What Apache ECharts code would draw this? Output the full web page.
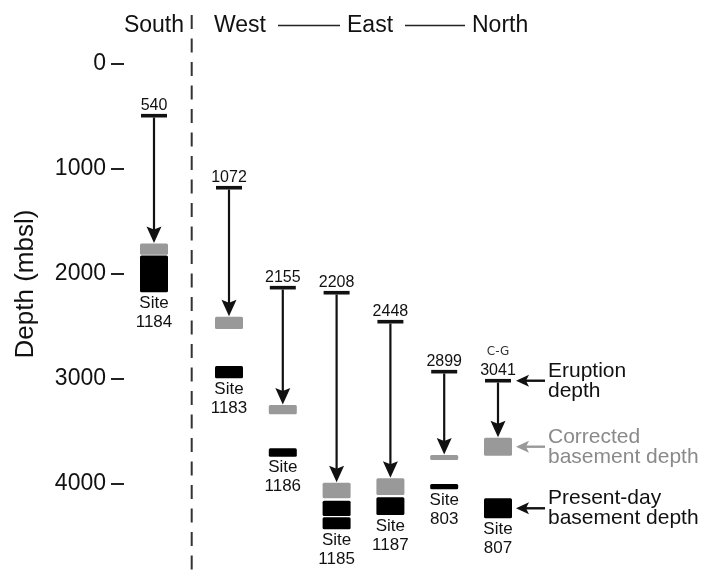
<!DOCTYPE html>
<html><head><meta charset="utf-8">
<script src="https://cdn.jsdelivr.net/npm/echarts@6/dist/echarts.min.js"></script>
<style>html,body{margin:0;padding:0;background:#fff}#c{width:707px;height:576px}</style>
</head><body><div id="c"></div>
<script>
// ---- data ----
const southSites = ['1184'];
const otherSites = ['1183', '1186', '1185', '1187', '803', '807'];
const sites = ['1184', '1183', '1186', '1185', '1187', '803', '807'];
const eruptionDepth = [499, 1185, 2137, 2185, 2461, 2937, 3023];
const eruptionLabel = ['540', '1072', '2155', '2208', '2448', '2899', '3041'];
const eruptionNote = ['', '', '', '', '', '', 'C-G'];
const correctedTop = [1717, 2413, 3254, 3994, 3952, 3730, 3566];
const correctedBottom = [1824, 2530, 3343, 4143, 4111, 3778, 3737];
const presentSite = ['1184', '1183', '1186', '1185', '1185', '1187', '803', '807'];
const presentTop = [1830, 2883, 3667, 4166, 4324, 4133, 4007, 4143];
const presentBottom = [2181, 3000, 3747, 4311, 4438, 4302, 4057, 4333];
const depthTicks = [0, 1000, 2000, 3000, 4000];
const headerLabels = ['South', 'West', 'East', 'North'];
const noteText = ['Eruption\ndepth', 'Corrected\nbasement depth', 'Present-day\nbasement depth'];

// ---- styles ----
const FONT = 'Liberation Sans, Arial, sans-serif';
const INK = '#111';
const GREY = '#999';
const GREY_TEXT = '#8a8a8a';
const BOX_W = 28;

const gridOf = s => southSites.includes(s) ? 0 : 1;

function renderEruption(params, api) {
  const i = api.value(2);
  const p = api.coord([api.value(0), api.value(1)]);
  const ch = [
    { type: 'rect', shape: { x: p[0] - 13, y: p[1] - 1.8, width: 26, height: 3.6 }, style: { fill: INK } },
    { type: 'text', style: { text: eruptionLabel[i], x: p[0], y: p[1] - 10.5, align: 'center', verticalAlign: 'middle', fontSize: 16, fontFamily: FONT, fill: INK } }
  ];
  if (eruptionNote[i]) {
    ch.push({ type: 'text', style: { text: eruptionNote[i], x: p[0], y: p[1] - 28.5, align: 'center', verticalAlign: 'middle', fontSize: 12, fontFamily: 'DejaVu Sans, sans-serif', fill: '#333' } });
  }
  return { type: 'group', children: ch };
}

function renderArrow(params, api) {
  const x = api.value(0);
  const a = api.coord([x, api.value(1)]);
  const b = api.coord([x, api.value(2)]);
  const cx = a[0], y0 = a[1] + 1.8, yt = b[1] - 0.5;
  return { type: 'group', children: [
    { type: 'line', shape: { x1: cx, y1: y0, x2: cx, y2: yt - 10 }, style: { stroke: INK, lineWidth: 2.2 } },
    { type: 'polygon', shape: { points: [[cx, yt], [cx - 7.5, yt - 16.5], [cx, yt - 13.5], [cx + 7.5, yt - 16.5]] }, style: { fill: INK } }
  ] };
}

function renderBox(color) {
  return function (params, api) {
    const x = api.value(0);
    const a = api.coord([x, api.value(1)]);
    const b = api.coord([x, api.value(2)]);
    return { type: 'rect', shape: { x: a[0] - BOX_W / 2, y: a[1], width: BOX_W, height: b[1] - a[1], r: 1.5 }, style: { fill: color } };
  };
}

function renderSiteLabel(params, api) {
  const p = api.coord([api.value(0), api.value(1)]);
  return { type: 'text', style: { text: 'Site\n' + sites[api.value(2)], x: p[0], y: p[1] + 1.5, align: 'center', verticalAlign: 'top', fontSize: 17, lineHeight: 19, fontFamily: FONT, fill: INK } };
}

function renderNote(params, api) {
  const i = api.value(2);
  const p = api.coord([api.value(0), api.value(1)]);
  const col = i === 1 ? GREY : INK;
  const tcol = i === 1 ? GREY_TEXT : INK;
  const x0 = p[0] + 18, y = p[1];
  return { type: 'group', children: [
    { type: 'line', shape: { x1: x0 + 8, y1: y, x2: x0 + 29, y2: y }, style: { stroke: col, lineWidth: 2.4 } },
    { type: 'polygon', shape: { points: [[x0, y], [x0 + 13, y - 6], [x0 + 10, y], [x0 + 13, y + 6]] }, style: { fill: col } },
    { type: 'text', style: { text: noteText[i], x: x0 + 32, y: y, align: 'left', verticalAlign: 'middle', fontSize: 21, lineHeight: 20, fontFamily: FONT, fill: tcol } }
  ] };
}

// ---- build series per grid ----
const series = [];
[0, 1].forEach(g => {
  const eru = [], arr = [], cor = [], lab = [];
  sites.forEach((s, i) => {
    if (gridOf(s) !== g) return;
    eru.push([s, eruptionDepth[i], i]);
    arr.push([s, eruptionDepth[i], correctedTop[i]]);
    cor.push([s, correctedTop[i], correctedBottom[i]]);
    let low = -Infinity;
    presentSite.forEach((ps, k) => { if (ps === s) low = Math.max(low, presentBottom[k]); });
    lab.push([s, low, i]);
  });
  const pres = [];
  presentSite.forEach((s, k) => { if (gridOf(s) === g) pres.push([s, presentTop[k], presentBottom[k]]); });
  const common = { type: 'custom', xAxisIndex: g, yAxisIndex: g, clip: false, silent: true };
  series.push(Object.assign({ name: 'Corrected basement depth', renderItem: renderBox(GREY), data: cor }, common));
  series.push(Object.assign({ name: 'Present-day basement depth', renderItem: renderBox('#000'), data: pres }, common));
  series.push(Object.assign({ name: 'Subsidence', renderItem: renderArrow, data: arr }, common));
  series.push(Object.assign({ name: 'Eruption depth', renderItem: renderEruption, data: eru }, common));
  series.push(Object.assign({ name: 'Site', renderItem: renderSiteLabel, data: lab }, common));
});
// annotation notes attached to the last site
const li = sites.length - 1;
const lastSite = sites[li];
let lastPresTop = 0, lastPresBot = 0;
presentSite.forEach((s, k) => { if (s === lastSite) { lastPresTop = presentTop[k]; lastPresBot = presentBottom[k]; } });
series.push({
  type: 'custom', xAxisIndex: 1, yAxisIndex: 1, clip: false, silent: true, name: 'Notes',
  renderItem: renderNote,
  data: [
    [lastSite, eruptionDepth[li], 0],
    [lastSite, (correctedTop[li] + correctedBottom[li]) / 2, 1],
    [lastSite, (lastPresTop + lastPresBot) / 2, 2]
  ]
});

const yBase = { type: 'value', inverse: true, min: 0, max: 4500, interval: 1000, splitLine: { show: false }, axisLine: { show: false } };

const option = {
  animation: false,
  backgroundColor: '#fff',
  grid: [
    { left: 124, top: 63.3, width: 60, height: 472.5 },
    { left: 202.1, top: 63.3, width: 322.8, height: 472.5 }
  ],
  xAxis: [
    { type: 'category', gridIndex: 0, data: southSites, show: false },
    { type: 'category', gridIndex: 1, data: otherSites, show: false }
  ],
  yAxis: [
    Object.assign({}, yBase, {
      gridIndex: 0,
      axisTick: { show: true, length: 13, customValues: depthTicks, lineStyle: { color: '#222', width: 2 } },
      axisLabel: { show: true, margin: 18, fontSize: 23, color: INK, fontFamily: FONT, customValues: depthTicks,
        formatter: v => depthTicks.includes(v) ? String(v) : '' }
    }),
    Object.assign({}, yBase, { gridIndex: 1, show: false })
  ],
  graphic: [
    { type: 'line', silent: true, shape: { x1: 191.7, y1: 15, x2: 191.7, y2: 576 }, style: { stroke: '#333', lineWidth: 2, lineDash: [14, 9.5] } },
    { type: 'text', silent: true, style: { text: headerLabels[0], x: 184, y: 26, align: 'right', verticalAlign: 'middle', fontSize: 23, fontFamily: FONT, fill: INK } },
    { type: 'text', silent: true, style: { text: headerLabels[1], x: 214, y: 26, align: 'left', verticalAlign: 'middle', fontSize: 23, fontFamily: FONT, fill: INK } },
    { type: 'line', silent: true, shape: { x1: 278, y1: 25.5, x2: 340, y2: 25.5 }, style: { stroke: '#222', lineWidth: 1.6 } },
    { type: 'text', silent: true, style: { text: headerLabels[2], x: 347, y: 26, align: 'left', verticalAlign: 'middle', fontSize: 23, fontFamily: FONT, fill: INK } },
    { type: 'line', silent: true, shape: { x1: 405, y1: 25.5, x2: 465, y2: 25.5 }, style: { stroke: '#222', lineWidth: 1.6 } },
    { type: 'text', silent: true, style: { text: headerLabels[3], x: 472, y: 26, align: 'left', verticalAlign: 'middle', fontSize: 23, fontFamily: FONT, fill: INK } },
    { type: 'text', silent: true, x: 26, y: 284, rotation: Math.PI / 2, style: { text: 'Depth (mbsl)', x: 0, y: 0, align: 'center', verticalAlign: 'middle', fontSize: 26, fontFamily: FONT, fill: INK } }
  ],
  series: series
};

const chart = echarts.init(document.getElementById('c'));
chart.setOption(option);
</script>
</body></html>
